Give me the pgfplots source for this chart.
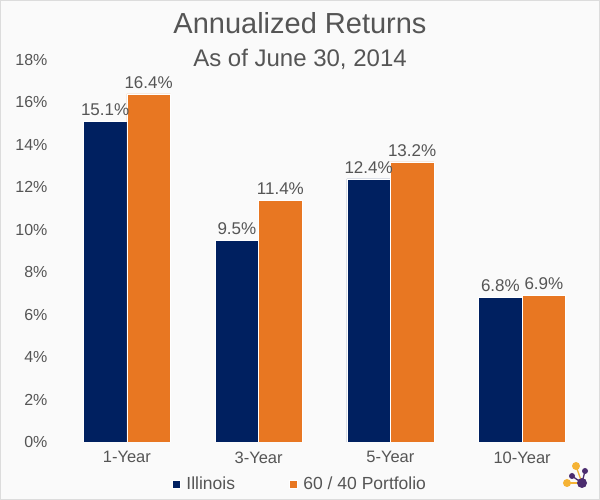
\documentclass[border=0pt]{standalone}
\usepackage{pgfplots}
\pgfplotsset{compat=1.18}
\usepackage{fontspec}
\setmainfont{Liberation Sans}
\definecolor{navyb}{HTML}{002060}
\definecolor{orangeb}{HTML}{E87722}
\definecolor{txt}{HTML}{555555}
\definecolor{bgc}{HTML}{FAFAFA}
\definecolor{brd}{HTML}{DCDCDC}
\definecolor{logop}{HTML}{4B2C6F}
\definecolor{logoo}{HTML}{F5B335}
\begin{document}
\begin{tikzpicture}[x=1pt,y=1pt]
\fill[bgc] (0,0) rectangle (600,500);
\draw[brd, line width=1.2pt] (0.6,0.6) rectangle (599.4,499.4);
\useasboundingbox (0,0) rectangle (600,500);
\node[txt, anchor=base, font=\fontsize{29}{33}\selectfont] at (300,466) {Annualized Returns};
\node[txt, anchor=base, font=\fontsize{24}{28}\selectfont] at (300,433) {As of June 30, 2014};
\begin{axis}[
  at={(61pt,58pt)}, anchor=south west,
  scale only axis, width=527pt, height=382pt,
  ymin=0, ymax=18, xmin=-0.5, xmax=3.5,
  ybar=0pt, bar width=43.5pt,
  xtick=data, xticklabels={1-Year,3-Year,5-Year,10-Year},
  ytick={0,2,...,18},
  yticklabel={\pgfmathprintnumber{\tick}\%},
  /pgf/number format/assume math mode=true,
  axis line style={draw=none}, major tick length=0pt,
  tick label style={txt},
  yticklabel style={font=\fontsize{16}{18}\selectfont, xshift=-10pt},
  xticklabel style={font=\fontsize{16.5}{19}\selectfont, yshift=-6pt},
  nodes near coords={\pgfmathprintnumber[fixed,fixed zerofill,precision=1]{\pgfplotspointmeta}\%},
  nodes near coords style={txt, font=\fontsize{17}{19}\selectfont, yshift=2pt},
  legend columns=2,
  legend style={at={(0.4535,-0.11)}, anchor=center, draw=none, fill=none,
    font=\fontsize{17.5}{19}\selectfont, text=txt,
    /tikz/every even column/.append style={column sep=52pt}},
  legend image code/.code={\fill[#1] (0pt,-4pt) rectangle (8pt,4pt);},
]
\addplot[fill=navyb, draw=white, line width=0.4pt] coordinates {(0,15.1) (1,9.5) (2,12.4) (3,6.8)};
\addplot[fill=orangeb, draw=white, line width=0.4pt] coordinates {(0,16.4) (1,11.4) (2,13.2) (3,6.9)};
\legend{\hspace{4pt}Illinois, \hspace{4pt}60 / 40 Portfolio}
\end{axis}
% logo
\draw[logoo, line width=1.3pt] (582,17) -- (576,34);
\draw[logoo, line width=1.3pt] (582,17) -- (567,17);
\draw[logop, line width=1.3pt] (582,17) -- (572,24);
\draw[logop, line width=1.3pt] (582,17) -- (585,29);
\fill[logoo] (576,34) circle (4);
\fill[logoo] (567,17) circle (4);
\fill[logop] (572,24) circle (3);
\fill[logop] (585,29) circle (3);
\fill[logop] (582,17) circle (5);
\end{tikzpicture}
\end{document}
